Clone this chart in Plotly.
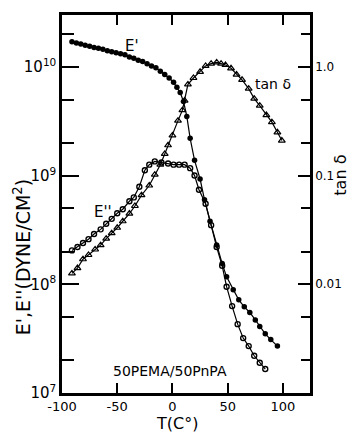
import plotly.graph_objects as go

# E' (storage modulus, filled circles)
T_E1 = [-91, -87, -83, -79, -75, -71, -67, -63, -59, -55, -51, -47, -43, -39, -35, -31, -27, -23,
        -19, -15, -11, -7, -3, 1, 4, 7, 10, 13, 16, 20, 25, 29, 34, 40, 45, 49, 55, 60, 65, 70,
        75, 79, 84, 89, 95]
E1 = [1.70e10, 1.66e10, 1.62e10, 1.58e10, 1.55e10, 1.51e10, 1.48e10, 1.45e10, 1.41e10, 1.38e10,
      1.35e10, 1.32e10, 1.29e10, 1.23e10, 1.20e10, 1.15e10, 1.12e10, 1.07e10, 1.02e10, 9.8e9,
      9.1e9, 8.5e9, 7.9e9, 7.2e9, 6.5e9, 5.8e9, 4.8e9, 3.5e9, 2.2e9, 1.38e9, 9.3e8, 6.0e8,
      3.8e8, 2.3e8, 1.55e8, 1.17e8, 8.9e7, 7.2e7, 6.2e7, 5.5e7, 4.7e7, 4.1e7, 3.5e7, 3.1e7, 2.7e7]

# E'' (loss modulus, open circles)
T_E2 = [-91, -86, -81, -76, -71, -65, -60, -55, -50, -45, -39, -35, -30, -25, -21, -16, -10, -4,
        1, 6, 11, 16, 20, 24, 30, 35, 40, 45, 49, 54, 59, 64, 69, 74, 79, 84]
E2 = [2.05e8, 2.2e8, 2.4e8, 2.6e8, 2.9e8, 3.2e8, 3.6e8, 4.0e8, 4.5e8, 4.9e8, 5.8e8, 6.3e8,
      7.9e8, 1.12e9, 1.26e9, 1.35e9, 1.32e9, 1.29e9, 1.26e9, 1.26e9, 1.26e9, 1.17e9, 1.0e9,
      7.4e8, 5.5e8, 3.5e8, 2.2e8, 1.48e8, 9.5e7, 6.3e7, 4.3e7, 3.2e7, 2.7e7, 2.2e7, 1.9e7, 1.66e7]

# tan delta (open triangles, right axis)
T_TAN = [-91, -86, -81, -76, -70, -65, -60, -55, -50, -45, -39, -34, -28, -21, -16, -11, -7, -4,
         0, 5, 9, 11, 14, 19, 25, 30, 35, 40, 44, 48, 53, 58, 63, 69, 74, 79, 85, 90, 95, 99]
TAN = [0.0126, 0.0141, 0.017, 0.0186, 0.0209, 0.0229, 0.0263, 0.0295, 0.0331, 0.038, 0.0447,
       0.0525, 0.066, 0.081, 0.102, 0.126, 0.158, 0.19, 0.234, 0.32, 0.40, 0.49, 0.69, 0.79,
       0.90, 1.02, 1.07, 1.10, 1.07, 1.04, 0.97, 0.85, 0.76, 0.63, 0.51, 0.44, 0.36, 0.31,
       0.25, 0.21]

X_TICKS = [-100, -50, 0, 50, 100]
Y_TICKS = [1e7, 1e8, 1e9, 1e10]
Y_TICKTEXT = ["10<sup>7</sup>", "10<sup>8</sup>", "10<sup>9</sup>", "10<sup>10</sup>"]
Y2_TICKS = [0.01, 0.1, 1.0]
Y2_TICKTEXT = ["0.01", "0.1", "1.0"]

FONT = "DejaVu Sans"
line_style = dict(color="black", width=1.2)

fig = go.Figure()
fig.add_trace(go.Scatter(x=T_E1, y=E1, mode="lines+markers", line=line_style,
                         marker=dict(symbol="circle", size=5.5, color="black"), showlegend=False))
fig.add_trace(go.Scatter(x=T_E2, y=E2, mode="lines+markers", line=line_style,
                         marker=dict(symbol="circle-open", size=5, color="black",
                                     line=dict(width=1.4)), showlegend=False))
fig.add_trace(go.Scatter(x=T_TAN, y=TAN, mode="lines+markers", line=line_style, yaxis="y2",
                         marker=dict(symbol="triangle-up-open", size=6, color="black",
                                     line=dict(width=1.2)), showlegend=False))

minor_y = [m * 10 ** e for e in range(7, 11) for m in (2, 5)]
minor_y = [v for v in minor_y if v <= 3e10]
minor_y2 = [v / 1e10 for v in minor_y]

fig.update_layout(
    width=354, height=433,
    margin=dict(l=62, r=41, t=13, b=40),
    paper_bgcolor="white", plot_bgcolor="white",
    font=dict(family=FONT, color="black", size=14),
    xaxis=dict(range=[-100, 124.5], tickvals=X_TICKS, ticktext=[str(v) for v in X_TICKS],
               ticks="inside", ticklen=10, tickwidth=1.5, tickcolor="black",
               showline=True, linewidth=2.5, linecolor="black", mirror="ticks",
               showgrid=False, zeroline=False, tickfont=dict(size=13, family=FONT)),
    yaxis=dict(type="log", range=[7, 10.477], tickvals=Y_TICKS, ticktext=Y_TICKTEXT,
               ticks="inside", ticklen=17, tickwidth=1.5, tickcolor="black",
               showline=True, linewidth=2.5, linecolor="black", mirror=False,
               showgrid=False, zeroline=False, tickfont=dict(size=15, family=FONT),
               minor=dict(tickvals=minor_y, ticks="inside", ticklen=12, tickwidth=1.5,
                          tickcolor="black", showgrid=False)),
    yaxis2=dict(type="log", range=[-3, 0.477], overlaying="y", side="right",
                tickvals=Y2_TICKS, ticktext=Y2_TICKTEXT,
                ticks="inside", ticklen=12, tickwidth=1.5, tickcolor="black",
                showline=True, linewidth=2.5, linecolor="black",
                showgrid=False, zeroline=False, tickfont=dict(size=12, family=FONT),
                minor=dict(tickvals=minor_y2, ticks="inside", ticklen=9, tickwidth=1.5,
                           tickcolor="black", showgrid=False)),
)

ann = [
    dict(text="E',E''(DYNE/CM<sup>2</sup>)", x=-0.16, y=0.36, textangle=-90, font_size=19),
    dict(text="tan δ", x=1.125, y=0.575, textangle=-90, font_size=16),
    dict(text="T(C°)", x=0.462, y=-0.081, font_size=16),
    dict(text="50PEMA/50PnPA", x=0.435, y=0.058, font_size=14),
    dict(text="E'", x=0.283, y=0.918, font_size=15),
    dict(text="tan δ", x=0.85, y=0.818, font_size=14),
    dict(text="E''", x=0.167, y=0.479, font_size=15),
]
for a in ann:
    fig.add_annotation(xref="paper", yref="paper", showarrow=False,
                       xanchor="center", yanchor="middle", **a)

fig.write_html("out.html")
